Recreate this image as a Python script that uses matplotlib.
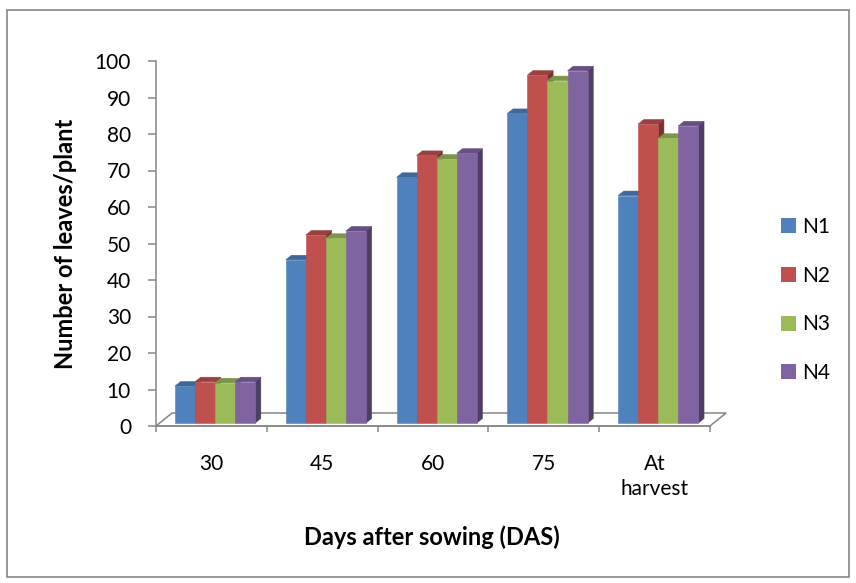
import numpy as np
import matplotlib.pyplot as plt
from matplotlib.patches import Polygon, Rectangle, Patch
from matplotlib.colors import to_rgb

# Number of leaves per plant at each sampling stage
categories = ['30', '45', '60', '75', 'At\nharvest']
series_names = ['N1', 'N2', 'N3', 'N4']
n1 = [10.1, 44.7, 67.3, 84.8, 62.3]
n2 = [11.3, 51.5, 73.3, 95.3, 81.9]
n3 = [11.0, 50.6, 72.3, 93.8, 78.0]
n4 = [11.3, 52.6, 73.9, 96.5, 81.4]
colors = ['#4F81BD', '#C0504D', '#9BBB59', '#8064A2']

values = [n1, n2, n3, n4]
axis_gray = '#868686'

plt.rcParams['font.family'] = ['Lato', 'DejaVu Sans']

fig = plt.figure(figsize=(8.56, 5.83), dpi=100)
ax = fig.add_axes([156 / 856, 157 / 583, 554 / 856, 365 / 583])
ax.set_xlim(-0.5, 4.5)
ax.set_ylim(0, 100)

# depth of the floor, in data units (x categories, y values)
DX = 0.145
DY = 3.56
D0, D1 = 0.23, 0.58   # front / back of the columns as a fraction of depth


def shade(c, f):
    r, g, b = to_rgb(c)
    return (r * f, g * f, b * f)


def pt(x, y, d):
    return (x + d * DX, y + d * DY)


def column(x, w, h, color):
    front = [pt(x, 0, D0), pt(x + w, 0, D0), pt(x + w, h, D0), pt(x, h, D0)]
    top = [pt(x, h, D0), pt(x + w, h, D0), pt(x + w, h, D1), pt(x, h, D1)]
    side = [pt(x + w, 0, D0), pt(x + w, 0, D1), pt(x + w, h, D1), pt(x + w, h, D0)]
    for poly, f in [(side, 0.62), (top, 0.8), (front, 1.0)]:
        c = shade(color, f)
        ax.add_patch(Polygon(poly, closed=True, facecolor=c, edgecolor=c,
                             linewidth=0.4, zorder=3, clip_on=False))


# floor of the 3-D plot
floor = [(-0.5, 0), (4.5, 0), (4.5 + DX, DY), (-0.5 + DX, DY)]
ax.add_patch(Polygon(floor, closed=True, fill=False, edgecolor=axis_gray,
                     linewidth=1.1, zorder=1, clip_on=False))

w = 0.181
for i in range(len(categories)):
    for j in range(len(series_names)):
        x = i - 2 * w + j * w
        column(x, w, values[j][i], colors[j])

for s in ['top', 'right']:
    ax.spines[s].set_visible(False)
for s in ['left', 'bottom']:
    ax.spines[s].set_color(axis_gray)
    ax.spines[s].set_linewidth(1.1)

ax.set_yticks(range(0, 101, 10))
ax.tick_params(axis='y', length=6, width=1.1, color=axis_gray, pad=12,
               labelsize=15)

ax.set_xticks(np.arange(-0.5, 5, 1))
ax.set_xticklabels([])
ax.set_xticks(range(len(categories)), minor=True)
ax.set_xticklabels(categories, minor=True, linespacing=1.35)
ax.tick_params(axis='x', which='major', length=4, width=1.1, color=axis_gray)
ax.tick_params(axis='x', which='minor', length=0, pad=20, labelsize=15)

ax.set_ylabel('Number of leaves/plant', fontsize=17, fontweight='bold')
ax.yaxis.set_label_coords(-0.164, 0.5)
ax.yaxis.label.set_verticalalignment('center')
ax.set_xlabel('Days after sowing (DAS)', fontsize=17, fontweight='bold')
ax.xaxis.set_label_coords(0.498, -0.304)
ax.xaxis.label.set_verticalalignment('center')

handles = [Patch(facecolor=c, edgecolor='none') for c in colors]
fig.legend(handles, series_names, loc='center left',
           bbox_to_anchor=(781 / 856, 1 - 300 / 583), frameon=False,
           fontsize=15, handlelength=0.72, handleheight=0.72,
           handletextpad=0.3, labelspacing=1.38, borderpad=0,
           borderaxespad=0)

# chart area border
fig.patches.append(Rectangle((7 / 856, 6 / 583), 842 / 856, 567 / 583,
                             transform=fig.transFigure, fill=False,
                             edgecolor=axis_gray, linewidth=1.2))

fig.savefig('out.png', dpi=100)
